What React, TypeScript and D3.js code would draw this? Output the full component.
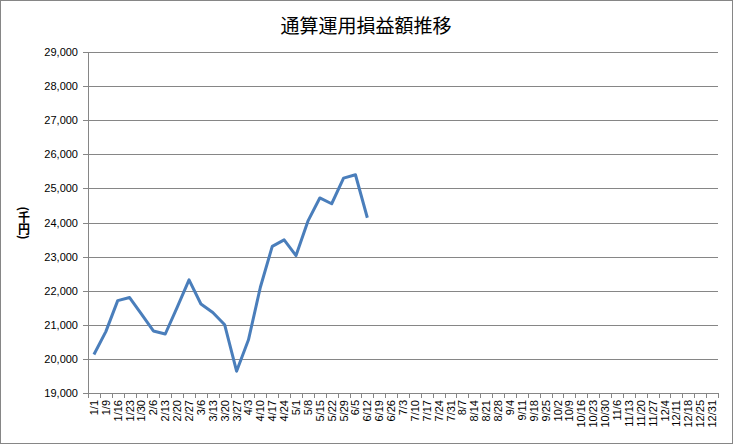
import { useEffect, useRef } from 'react';
import * as d3 from 'd3';

// weekly dates shown on the x axis
const categories = [
  '1/1', '1/9', '1/16', '1/23', '1/30', '2/6', '2/13', '2/20', '2/27', '3/6', '3/13', '3/20', '3/27',
  '4/3', '4/10', '4/17', '4/24', '5/1', '5/8', '5/15', '5/22', '5/29', '6/5', '6/12', '6/19', '6/26',
  '7/3', '7/10', '7/17', '7/24', '7/31', '8/7', '8/14', '8/21', '8/28', '9/4', '9/11', '9/18', '9/25',
  '10/2', '10/9', '10/16', '10/23', '10/30', '11/6', '11/13', '11/20', '11/27', '12/4', '12/11',
  '12/18', '12/25', '12/31',
];

// cumulative P&L (thousand yen), only first weeks have values
const values = [
  20130, 20800, 21710, 21800, 21310, 20820, 20730, 21510, 22320, 21610, 21360, 21000, 19640,
  20560, 22100, 23300, 23490, 23030, 24040, 24720, 24550, 25300, 25400, 24140,
];

const yTicks = [19000, 20000, 21000, 22000, 23000, 24000, 25000, 26000, 27000, 28000, 29000];

const W = 733;
const H = 444;

const App = () => {
  const svgRef = useRef<SVGSVGElement>(null);

  useEffect(() => {
    const margin = { top: 52, right: 15, bottom: 51, left: 88 };
    const width = W - margin.left - margin.right;
    const height = H - margin.top - margin.bottom;

    const root = d3.select(svgRef.current);
    root.selectAll('*').remove();

    root.append('rect')
      .attr('x', 0.5).attr('y', 0.5)
      .attr('width', W - 1).attr('height', H - 1)
      .attr('fill', '#fff')
      .attr('stroke', '#868686');

    root.append('text')
      .attr('x', 366)
      .attr('y', 33)
      .attr('text-anchor', 'middle')
      .attr('font-family', '"Noto Sans CJK JP", sans-serif')
      .attr('font-size', 19)
      .attr('fill', '#000')
      .text('通算運用損益額推移');

    // vertical axis title, written top to bottom
    root.append('text')
      .attr('x', 24)
      .attr('y', 223)
      .attr('text-anchor', 'middle')
      .attr('font-family', '"Noto Sans CJK JP", sans-serif')
      .attr('font-size', 12)
      .attr('font-weight', 'bold')
      .attr('fill', '#000')
      .style('writing-mode', 'vertical-rl')
      .style('text-orientation', 'mixed')
      .text('(千円)');

    const svg = root.append('g')
      .attr('transform', `translate(${margin.left},${margin.top})`);

    const x = d3.scaleBand()
      .domain(categories)
      .range([0, width]);

    const y = d3.scaleLinear()
      .domain([19000, 29000])
      .range([height, 0]);

    // gridlines
    svg.append('g')
      .selectAll('line')
      .data(yTicks)
      .enter()
      .append('line')
      .attr('x1', -5)
      .attr('x2', width)
      .attr('y1', d => Math.round(y(d)) + 0.5)
      .attr('y2', d => Math.round(y(d)) + 0.5)
      .attr('stroke', '#868686');

    // y axis labels
    svg.append('g')
      .selectAll('text')
      .data(yTicks)
      .enter()
      .append('text')
      .attr('x', -10)
      .attr('y', d => y(d) + 4)
      .attr('text-anchor', 'end')
      .attr('font-family', '"Liberation Sans", Arial, sans-serif')
      .attr('font-size', 11)
      .attr('fill', '#000')
      .text(d => d3.format(',')(d));

    // y axis line
    svg.append('line')
      .attr('x1', 0.5).attr('x2', 0.5)
      .attr('y1', 0).attr('y2', height)
      .attr('stroke', '#868686');

    // x ticks
    const bounds = categories.map((c, i) => i * x.bandwidth()).concat([width]);
    svg.append('g')
      .selectAll('line')
      .data(bounds)
      .enter()
      .append('line')
      .attr('x1', d => Math.round(d) + 0.5)
      .attr('x2', d => Math.round(d) + 0.5)
      .attr('y1', height)
      .attr('y2', height + 5)
      .attr('stroke', '#868686');

    svg.append('g')
      .selectAll('text')
      .data(categories)
      .enter()
      .append('text')
      .attr('transform', d => `translate(${x(d)! + x.bandwidth() / 2 + 4},${height + 7}) rotate(-90)`)
      .attr('text-anchor', 'end')
      .attr('font-family', '"Liberation Sans", Arial, sans-serif')
      .attr('font-size', 11)
      .attr('fill', '#000')
      .text(d => d);

    const line = d3.line<number>()
      .x((d, i) => x(categories[i])! + x.bandwidth() / 2)
      .y(d => y(d));

    svg.append('path')
      .datum(values)
      .attr('fill', 'none')
      .attr('stroke', '#4a7ebb')
      .attr('stroke-width', 3)
      .attr('stroke-linejoin', 'round')
      .attr('d', line);
  }, []);

  return (
    <svg ref={svgRef} width={W} height={H} style={{ position: 'absolute', left: 0, top: 0 }}></svg>
  );
};

export default App;
